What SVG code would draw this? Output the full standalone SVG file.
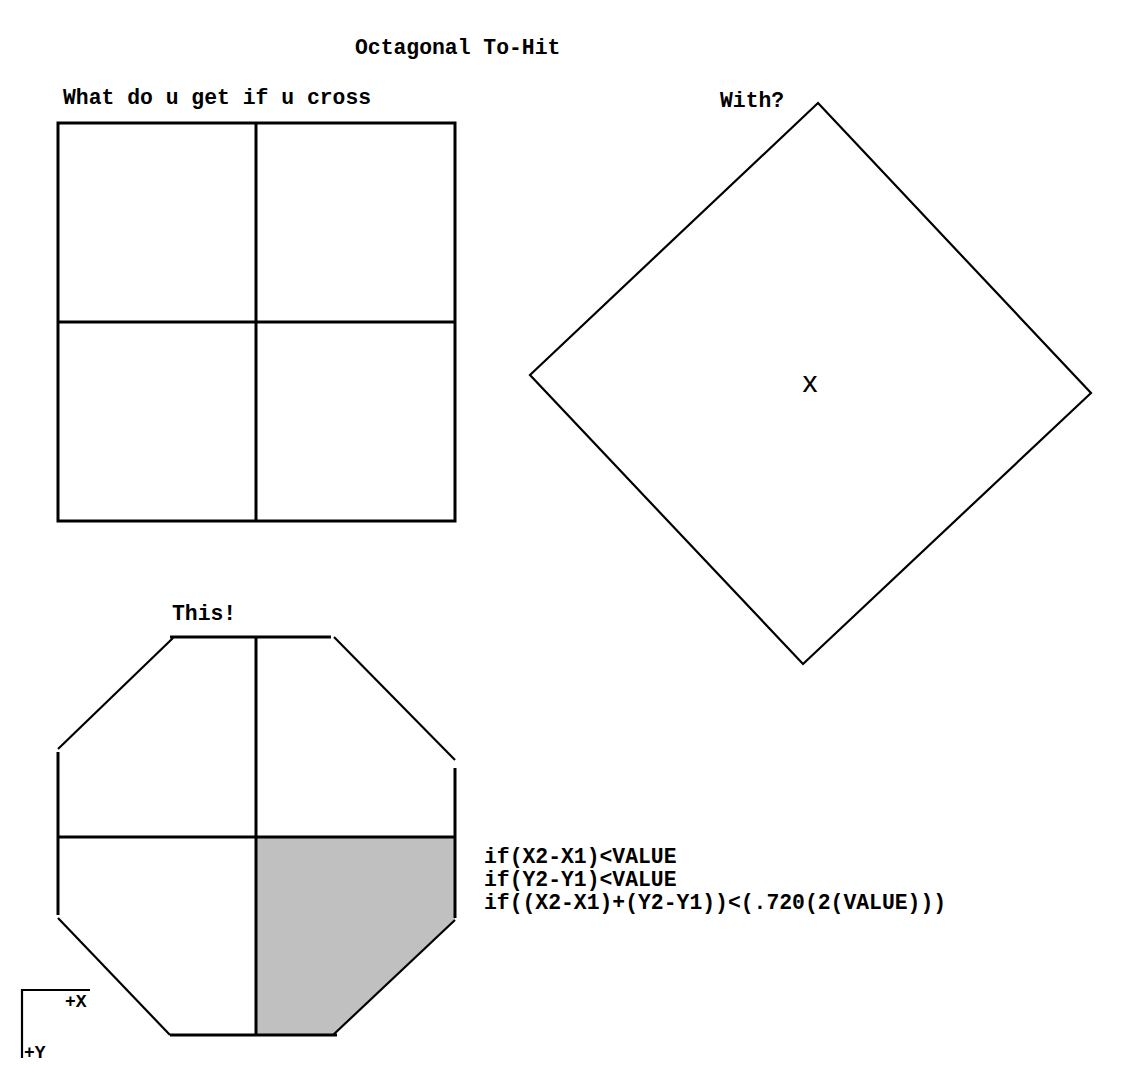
<svg xmlns="http://www.w3.org/2000/svg" width="1126" height="1079" viewBox="0 0 1126 1079">
<style>
.t{font-family:"Liberation Mono","Courier New",monospace;font-weight:bold;font-size:21.4px;fill:#000}
.s{font-family:"Liberation Mono","Courier New",monospace;font-weight:bold;font-size:18px;fill:#000}
.ln{stroke:#000;stroke-width:3;fill:none}
.thin{stroke:#000;stroke-width:2.2;fill:none}
</style>
<rect width="1126" height="1079" fill="#fff"/>
<text class="t" x="355" y="54">Octagonal To-Hit</text>
<g id="square">
<text class="t" x="63" y="104">What do u get if u cross</text>
<rect class="ln" x="58" y="123" width="397" height="398"/>
<line class="ln" x1="256" y1="123" x2="256" y2="521"/>
<line class="ln" x1="58" y1="322" x2="455" y2="322"/>
</g>
<g id="diamond">
<text class="t" x="720" y="107">With?</text>
<polygon class="thin" points="818,103 1091,393 803,664 530,375"/>
<text x="810" y="392" text-anchor="middle" font-family="Liberation Sans,Arial,sans-serif" font-size="30" fill="#000">x</text>
</g>
<g id="octagon">
<text class="t" x="172" y="620">This!</text>
<polygon points="256,837 455,837 455,920 333,1035 256,1035" fill="#c0c0c0"/>
<line class="ln" x1="170" y1="637" x2="331" y2="637"/>
<line class="ln" x1="170" y1="1035" x2="337" y2="1035"/>
<line class="ln" x1="58" y1="752" x2="58" y2="915"/>
<line class="ln" x1="455" y1="768" x2="455" y2="918"/>
<line class="thin" x1="173" y1="638" x2="58" y2="749"/>
<line class="thin" x1="334" y1="637" x2="455" y2="760"/>
<line class="thin" x1="58" y1="918" x2="170" y2="1035"/>
<line class="thin" x1="333" y1="1035" x2="455" y2="920"/>
<line class="ln" x1="256" y1="637" x2="256" y2="1035"/>
<line class="ln" x1="58" y1="837" x2="455" y2="837"/>
</g>
<g id="formula">
<text class="t" x="484" y="863">if(X2-X1)&lt;VALUE</text>
<text class="t" x="484" y="886">if(Y2-Y1)&lt;VALUE</text>
<text class="t" x="484" y="909">if((X2-X1)+(Y2-Y1))&lt;(.720(2(VALUE)))</text>
</g>
<g id="axes">
<polyline class="thin" points="90,990 22,990 22,1058"/>
<text class="s" x="65" y="1007">+X</text>
<text class="s" x="24" y="1058">+Y</text>
</g>
</svg>
